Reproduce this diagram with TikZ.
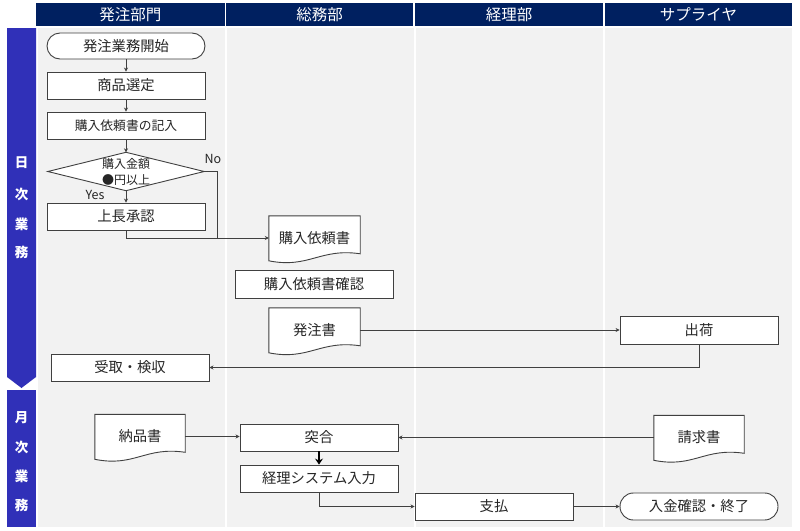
\documentclass[tikz,border=0pt]{standalone}
\usepackage{fontspec}
\setmainfont{Noto Sans CJK JP}
\usetikzlibrary{arrows.meta,calc}
\definecolor{navy}{HTML}{002060}
\definecolor{side}{HTML}{3030B8}
\definecolor{lane}{HTML}{F2F2F2}
\definecolor{ink}{HTML}{262626}
\definecolor{edge}{HTML}{404040}
\pgfdeclarelayer{bg}
\pgfdeclarelayer{shapes}
\pgfsetlayers{bg,shapes,main}
\newcommand{\docshape}[1]{%
  \begin{pgfonlayer}{shapes}
  \draw[draw=edge, line width=0.9pt, fill=white] (#1.north west) -- (#1.north east) -- ($(#1.north east)+(0,38)$)
    .. controls ($(#1.north east)+(-40,32)$) and ($(#1.north west)+(40,53)$) .. ($(#1.north west)+(0,45)$) -- cycle;
  \end{pgfonlayer}}
\begin{document}
\begin{tikzpicture}[x=1pt,y=-1pt,
  box/.style={draw=edge, line width=0.9pt, fill=white, minimum width=158pt, minimum height=27pt, inner sep=0pt, text=ink, font=\fontsize{14.3}{17}\selectfont},
  term/.style={box, rounded corners=13pt, minimum height=26pt},
  docnode/.style={minimum width=91pt, minimum height=44pt, inner sep=0pt, text=ink, font=\fontsize{14.3}{17}\selectfont},
  flow/.style={draw=edge, line width=0.8pt, -{Stealth[length=4pt,width=4pt]}},
  link/.style={draw=edge, line width=0.8pt},
  thickflow/.style={draw=black, line width=2pt, -{Stealth[length=6pt,width=8pt]}},
  hdr/.style={fill=navy, text=white, minimum height=23pt, inner sep=0pt, font=\fontsize{15.5}{18}\selectfont},
  sidelbl/.style={text=white, font=\fontsize{13.5}{15}\selectfont\bfseries, inner sep=0pt},
  lbl/.style={text=ink, font=\fontsize{12.5}{14}\selectfont, inner sep=0pt}
]
\useasboundingbox (0,0) rectangle (800,530);
\begin{pgfonlayer}{bg}
  \fill[white] (0,0) rectangle (800,530);
  \fill[lane] (37.5,28) rectangle (224.5,527);
  \fill[lane] (227,28) rectangle (413.5,527);
  \fill[lane] (416,28) rectangle (602.5,527);
  \fill[lane] (605,28) rectangle (792,527);
  \fill[side] (7,28) -- (36,28) -- (36,377) -- (21.5,388) -- (7,377) -- cycle;
  \fill[side] (7,390) rectangle (36,527);
\end{pgfonlayer}

% headers
\node[hdr, minimum width=188.5pt] (h1) at (130.25,14.5) {発注部門};
\node[hdr, minimum width=187pt] (h2) at (319.5,14.5) {総務部};
\node[hdr, minimum width=188pt] (h3) at (509,14.5) {経理部};
\node[hdr, minimum width=187pt] (h4) at (698.5,14.5) {サプライヤ};

% side labels
\node[sidelbl] (s1) at (21.5,163) {日};
\node[sidelbl] (s2) at (21.5,194) {次};
\node[sidelbl] (s3) at (21.5,224) {業};
\node[sidelbl] (s4) at (21.5,252) {務};
\node[sidelbl] (s5) at (21.5,418) {月};
\node[sidelbl] (s6) at (21.5,447) {次};
\node[sidelbl] (s7) at (21.5,476) {業};
\node[sidelbl] (s8) at (21.5,505) {務};

% nodes
\node[term] (st) at (126,46) {発注業務開始};
\node[box] (sp) at (126,85.5) {商品選定};
\node[box, font=\fontsize{12.8}{15}\selectfont] (kn) at (126,125.5) {購入依頼書の記入};
\node[minimum width=156pt, minimum height=38pt, inner sep=0pt, align=center, text=ink, font=\fontsize{12}{16}\selectfont] (dec) at (126,171.5) {購入金額\\●円以上};
\begin{pgfonlayer}{shapes}
  \draw[draw=edge, line width=0.9pt, fill=white] (dec.west) -- (dec.north) -- (dec.east) -- (dec.south) -- cycle;
\end{pgfonlayer}
\node[box] (jo) at (126,216.5) {上長承認};
\node[docnode] (d1) at (314.5,238) {購入依頼書};
\docshape{d1}
\node[box, minimum height=28pt] (kk) at (314,284) {購入依頼書確認};
\node[docnode] (hd) at (314.5,330) {発注書};
\docshape{hd}
\node[box, minimum height=28pt] (ship) at (699,330) {出荷};
\node[box] (uk) at (130,367.5) {受取・検収};
\node[docnode, minimum width=90pt] (nd) at (140,436.5) {納品書};
\docshape{nd}
\node[box] (tg) at (319,437.5) {突合};
\node[box] (ks) at (319,478.5) {経理システム入力};
\node[docnode, minimum width=90pt] (sk) at (699,437.5) {請求書};
\docshape{sk}
\node[box] (pay) at (494,506.5) {支払};
\node[term, minimum height=27pt, rounded corners=13.4pt] (fin) at (699,506.5) {入金確認・終了};

\node[lbl] (yes) at (95,194.5) {Yes};
\node[lbl] (no) at (213,159) {No};

% connectors
\draw[flow] (st) -- (sp);
\draw[flow] (sp) -- (kn);
\draw[flow] (kn) -- (dec);
\draw[flow] (dec) -- (jo);
\coordinate (mx) at (217,0);
\coordinate (m) at (d1.west -| mx);
\draw[link] (dec.east) -| (m);
\draw[link] (jo.south) |- (m);
\draw[flow] (m) -- (d1.west);
\draw[flow] (hd.east) -- (hd.east -| ship.west);
\draw[flow] (ship.south) |- (uk.east);
\draw[flow] (nd.east) -- (nd.east -| tg.west);
\draw[flow] (sk.west) -- (sk.west -| tg.east);
\draw[thickflow] (tg) -- (ks);
\draw[flow] (ks.south) |- (pay.west);
\draw[flow] (pay) -- (fin);
\end{tikzpicture}
\end{document}
